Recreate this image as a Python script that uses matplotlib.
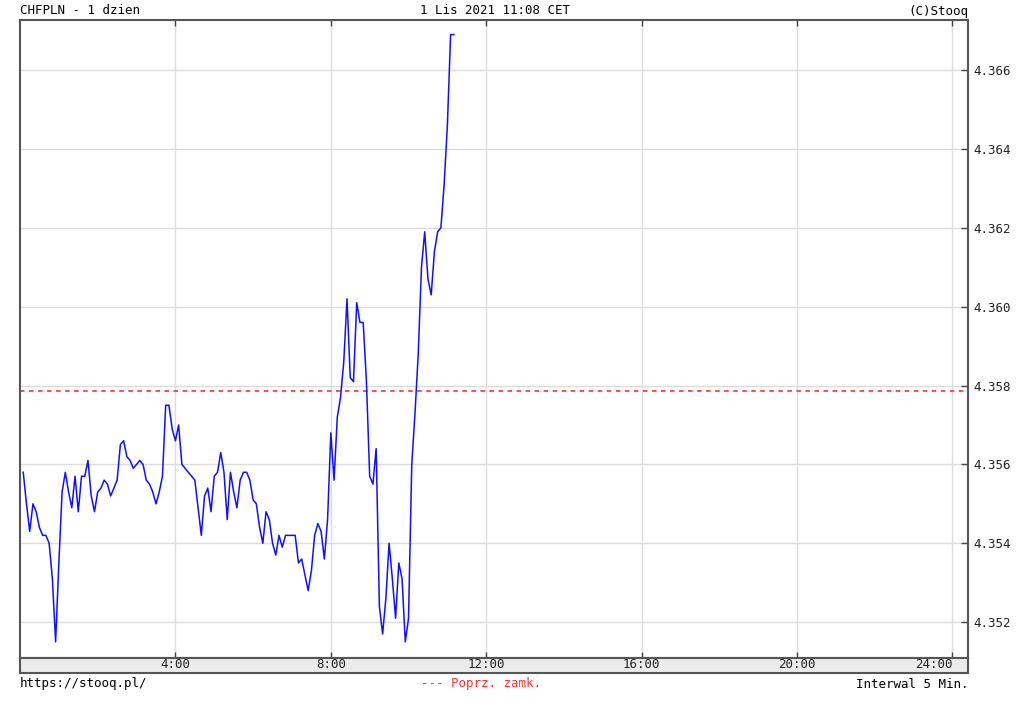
import numpy as np
import matplotlib
matplotlib.use("Agg")
import matplotlib.pyplot as plt

# CHFPLN intraday, 5-minute closes
interval_min = 5
prices = [
    4.3558, 4.3550, 4.3543, 4.3550, 4.3548, 4.3544, 4.3542, 4.3542, 4.3540, 4.3531,
    4.3515, 4.3535, 4.3553, 4.3558, 4.3553, 4.3549, 4.3557, 4.3548, 4.3557, 4.3557,
    4.3561, 4.3552, 4.3548, 4.3553, 4.3554, 4.3556, 4.3555, 4.3552, 4.3554, 4.3556,
    4.3565, 4.3566, 4.3562, 4.3561, 4.3559, 4.3560, 4.3561, 4.3560, 4.3556, 4.3555,
    4.3553, 4.3550, 4.3553, 4.3557, 4.3575, 4.3575, 4.3569, 4.3566, 4.3570, 4.3560,
    4.3559, 4.3558, 4.3557, 4.3556, 4.3549, 4.3542, 4.3552, 4.3554, 4.3548, 4.3557,
    4.3558, 4.3563, 4.3558, 4.3546, 4.3558, 4.3553, 4.3549, 4.3556, 4.3558, 4.3558,
    4.3556, 4.3551, 4.3550, 4.3544, 4.3540, 4.3548, 4.3546, 4.3540, 4.3537, 4.3542,
    4.3539, 4.3542, 4.3542, 4.3542, 4.3542, 4.3535, 4.3536, 4.3532, 4.3528, 4.3533,
    4.3542, 4.3545, 4.3543, 4.3536, 4.3546, 4.3568, 4.3556, 4.3572, 4.3577, 4.3586,
    4.3602, 4.3582, 4.3581, 4.3601, 4.3596, 4.3596, 4.3581, 4.3557, 4.3555, 4.3564,
    4.3524, 4.3517, 4.3526, 4.3540, 4.3531, 4.3521, 4.3535, 4.3531, 4.3515, 4.3521,
    4.3560, 4.3573, 4.3588, 4.3610, 4.3619, 4.3607, 4.3603, 4.3614, 4.3619, 4.3620,
    4.3631, 4.3646, 4.3669, 4.3669,
]
prev_close = 4.35787
y_ticks = [4.352, 4.354, 4.356, 4.358, 4.360, 4.362, 4.364, 4.366]
x_ticks = [4, 8, 12, 16, 20, 24]
x_labels = ["4:00", "8:00", "12:00", "16:00", "20:00", "24:00"]

hours = np.arange(1, len(prices) + 1) * interval_min / 60

W, H = 1024, 706
plt.rcParams["font.family"] = "DejaVu Sans Mono"
plt.rcParams["font.size"] = 9
fig = plt.figure(figsize=(W / 100, H / 100), dpi=100)

L, R, T, B, B2 = 20, 968, 20, 658, 673
ax = fig.add_axes([L / W, 1 - B / H, (R - L) / W, (B - T) / H])
band = fig.add_axes([L / W, 1 - B2 / H, (R - L) / W, (B2 - B) / H], sharex=ax)

ax.plot(hours, prices, color="#1010ff", lw=1.1, zorder=3)
ax.axhline(prev_close, color="#ff4040", lw=1.3, ls=(0, (2.5, 2.5)), zorder=2)

ax.set_xlim(0, 24.4)
ax.set_ylim(4.35109, 4.36727)

for v in x_ticks:
    ax.axvline(v, color="#dcdcdc", lw=1.0, zorder=1)
for v in y_ticks:
    ax.axhline(v, color="#dcdcdc", lw=1.0, zorder=1)

ax.yaxis.tick_right()
ax.set_yticks(y_ticks)
ax.set_yticklabels([f"{v:.3f}" for v in y_ticks])
ax.tick_params(axis="y", direction="in", length=5, width=1, color="#444444",
               pad=4, labelcolor="#222222")
ax.set_xticks(np.arange(2, 25, 2))
ax.tick_params(axis="x", direction="in", length=4, width=1, color="#444444",
               top=True, bottom=True, labelbottom=False)
for s in ax.spines.values():
    s.set_color("#555555")
    s.set_linewidth(1.5)

band.set_facecolor("#ebebeb")
band.set_yticks([])
band.tick_params(axis="x", length=0, pad=-11, labelcolor="#222222")
band.set_xticks(x_ticks)
band.set_xticklabels(x_labels)
band.get_xticklabels()[-1].set_horizontalalignment("right")
for s in band.spines.values():
    s.set_color("#555555")
    s.set_linewidth(1.5)

fig.text(L / W, 1 - 11 / H, "CHFPLN - 1 dzien", ha="left", va="center")
fig.text(495 / W, 1 - 11 / H, "1 Lis 2021 11:08 CET", ha="center", va="center")
fig.text(R / W, 1 - 11 / H, "(C)Stooq", ha="right", va="center")
fig.text(L / W, 1 - 684 / H, "https://stooq.pl/", ha="left", va="center")
fig.text(481 / W, 1 - 684 / H, "--- Poprz. zamk.", ha="center", va="center", color="#ff3030")
fig.text(R / W, 1 - 684 / H, "Interwal 5 Min.", ha="right", va="center")

fig.savefig("out.png", dpi=100, facecolor="white")
